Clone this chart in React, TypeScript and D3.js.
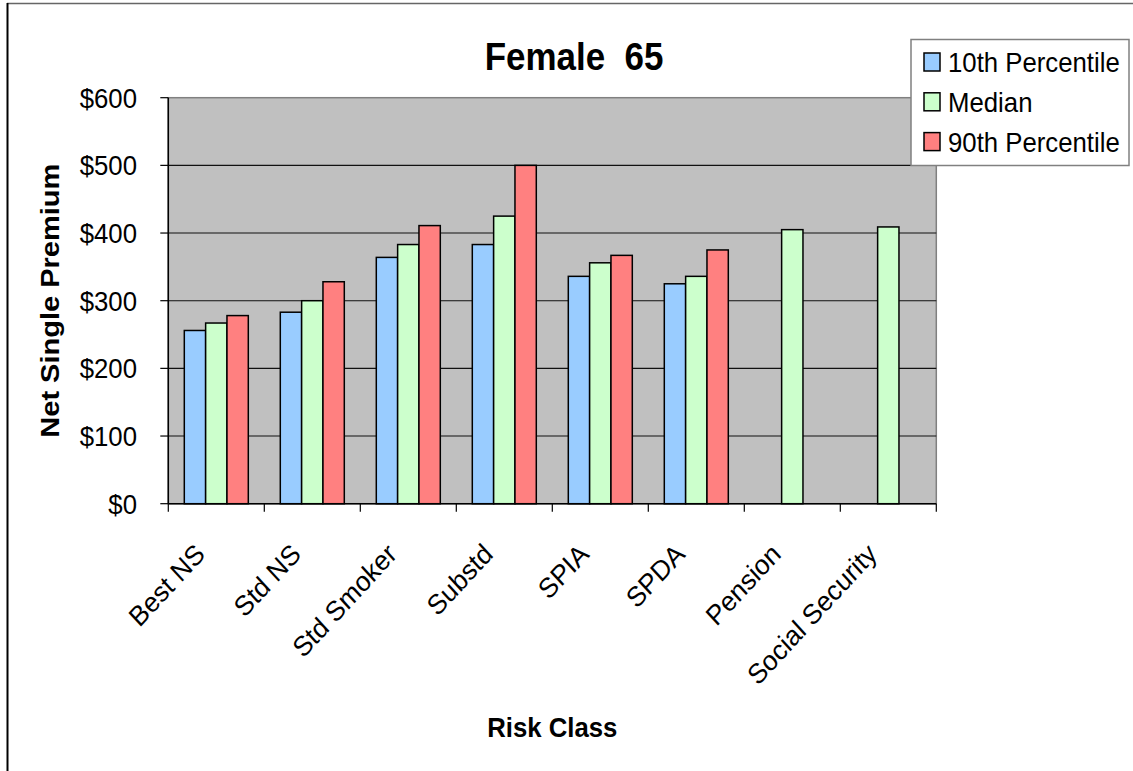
import React from "react";
import * as d3 from "d3";

// Net single premium by risk class, female age 65
const categories = ["Best NS", "Std NS", "Std Smoker", "Substd", "SPIA", "SPDA", "Pension", "Social Security"];
const seriesNames = ["10th Percentile", "Median", "90th Percentile"];
const tenth: (number | null)[] = [256, 283, 364, 383, 336, 325, null, null];
const median: (number | null)[] = [267, 300, 383, 425, 356, 336, 405, 409];
const ninetieth: (number | null)[] = [278, 328, 411, 500, 367, 375, null, null];
const yTicks = [0, 100, 200, 300, 400, 500, 600];
const colors = ["#99CCFF", "#CCFFCC", "#FF8080"];

const W = 1133;
const H = 771;
const plot = { left: 168.3, right: 936.3, top: 97.7, bottom: 503.7 };
const SX = 0.92; // horizontal squeeze applied to all text
const FONT = "Liberation Sans, Arial, sans-serif";

function Label({ x, y, rotate = 0, children, ...rest }: any) {
  return (
    <g transform={`translate(${x},${y}) scale(${SX},1) rotate(${rotate})`}>
      <text fontFamily={FONT} style={{ whiteSpace: "pre" }} {...rest}>
        {children}
      </text>
    </g>
  );
}

export default function App() {
  const values = [tenth, median, ninetieth];
  const x0 = d3.scaleBand<string>().domain(categories).range([plot.left, plot.right]).padding(0);
  const x1 = d3
    .scaleBand<string>()
    .domain(seriesNames)
    .range([0, x0.bandwidth()])
    .paddingInner(0)
    .paddingOuter(0.75);
  const y = d3.scaleLinear().domain([0, 600]).range([plot.bottom, plot.top]);

  const boundaries = categories.map((c) => x0(c)!).concat([plot.right]);

  return (
    <svg width={W} height={H} style={{ position: "absolute", left: 0, top: 0 }}>
      <rect x={0} y={0} width={W} height={H} fill="#fff" />
      {/* chart frame */}
      <line x1={7} y1={3.5} x2={W + 5} y2={3.5} stroke="#666" strokeWidth={1.5} />
      <line x1={7.5} y1={3} x2={7.5} y2={H + 5} stroke="#000" strokeWidth={2} />

      {/* plot area */}
      <rect
        x={plot.left}
        y={plot.top}
        width={plot.right - plot.left}
        height={plot.bottom - plot.top}
        fill="#C0C0C0"
        stroke="#808080"
        strokeWidth={1.5}
      />
      {yTicks
        .filter((t) => t > 0 && t < 600)
        .map((t) => (
          <line key={t} x1={plot.left} x2={plot.right} y1={y(t)} y2={y(t)} stroke="#111" strokeWidth={1.1} />
        ))}

      {/* bars */}
      {values.map((arr, si) =>
        arr.map((v, ci) =>
          v == null ? null : (
            <rect
              key={`${si}-${ci}`}
              x={x0(categories[ci])! + x1(seriesNames[si])!}
              y={y(v)}
              width={x1.bandwidth()}
              height={y(0) - y(v)}
              fill={colors[si]}
              stroke="#000"
              strokeWidth={1.5}
            />
          )
        )
      )}

      {/* y axis */}
      <line x1={plot.left} x2={plot.left} y1={plot.top} y2={plot.bottom} stroke="#000" strokeWidth={1.5} />
      {yTicks.map((t) => (
        <g key={t}>
          <line x1={plot.left - 8} x2={plot.left} y1={y(t)} y2={y(t)} stroke="#000" strokeWidth={1.2} />
          <Label x={137} y={y(t) + 10} fontSize={28} textAnchor="end" fill="#000">
            {d3.format("$,.0f")(t)}
          </Label>
        </g>
      ))}

      {/* x axis */}
      <line x1={plot.left} x2={plot.right} y1={plot.bottom} y2={plot.bottom} stroke="#000" strokeWidth={1.5} />
      {boundaries.map((bx, i) => (
        <line key={i} x1={bx} x2={bx} y1={plot.bottom} y2={plot.bottom + 8} stroke="#000" strokeWidth={1.2} />
      ))}
      {categories.map((c) => (
        <Label
          key={c}
          x={x0(c)! + x0.bandwidth() / 2 - 10}
          y={plot.bottom + 52}
          rotate={-45}
          fontSize={28}
          textAnchor="end"
          fill="#000"
        >
          {c}
        </Label>
      ))}

      {/* titles */}
      <Label x={574} y={70} fontSize={38} fontWeight="bold" textAnchor="middle" fill="#000">
        {"Female  65"}
      </Label>
      <text
        x={0}
        y={0}
        transform={`translate(59,${(plot.top + plot.bottom) / 2}) scale(${SX},1) rotate(-90)`}
        fontFamily={FONT}
        fontSize={29}
        fontWeight="bold"
        textAnchor="middle"
        style={{ whiteSpace: "pre" }}
      >
        Net Single Premium
      </text>
      <Label x={(plot.left + plot.right) / 2} y={737} fontSize={28} fontWeight="bold" textAnchor="middle" fill="#000">
        Risk Class
      </Label>

      {/* legend */}
      <rect x={911} y={39.5} width={218} height={126} fill="#fff" stroke="#808080" strokeWidth={1.5} />
      {seriesNames.map((s, i) => {
        const cy = 62 + i * 39.8;
        return (
          <g key={s}>
            <rect x={924} y={cy - 9} width={16} height={18} fill={colors[i]} stroke="#000" strokeWidth={1.5} />
            <Label x={948} y={cy + 10} fontSize={28} fill="#000">
              {s}
            </Label>
          </g>
        );
      })}
    </svg>
  );
}
